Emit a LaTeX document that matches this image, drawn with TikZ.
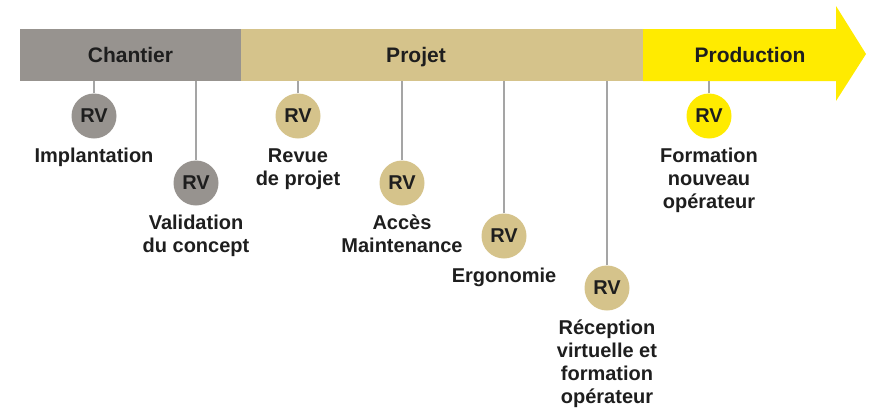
\documentclass[tikz,border=0pt]{standalone}
\usepackage{fontspec}
\setmainfont{Liberation Sans}
\definecolor{stonegray}{HTML}{97938F}
\definecolor{sandtan}{HTML}{D5C38B}
\definecolor{brightyellow}{HTML}{FFEB00}
\definecolor{stemgray}{HTML}{A5A5A5}
\definecolor{inkdark}{HTML}{1E1E1E}
\begin{document}
\begin{tikzpicture}[x=1pt,y=-1pt,
  phasebar/.style={rectangle, inner sep=0, outer sep=0, minimum height=52},
  phasetext/.style={anchor=base, inner sep=0, text=inkdark,
    font=\bfseries\fontsize{21}{24}\selectfont},
  rvdot/.style={circle, inner sep=0, minimum size=45, text=inkdark,
    font=\bfseries\fontsize{20}{23}\selectfont},
  % multi-line captions: the base anchor sits on the last line
  rvlabel/.style={anchor=base, align=center, inner sep=0, text=inkdark,
    font=\bfseries\fontsize{20}{23}\selectfont},
  stem/.style={draw=stemgray, line width=1.1pt}]
\useasboundingbox (0,0) rectangle (870,407);

% phase bars
\node[phasebar, fill=stonegray, minimum width=221] (chantier) at (130.5,55) {};
\node[phasebar, fill=sandtan, minimum width=402] (projet) at (442,55) {};
\fill[brightyellow] (643,29) -- (836,29) -- (836,6) -- (866,54)
  -- (836,101) -- (836,81) -- (643,81) -- cycle;
\coordinate (production) at (739.5,81);

\node[phasetext] (tchantier) at (130.5,62) {Chantier};
\node[phasetext] (tprojet) at (416,62) {Projet};
\node[phasetext] (tproduction) at (750,62) {Production};

% review milestones
\node[rvdot, fill=stonegray] (rv1) at (94,116) {RV};
\node[rvdot, fill=stonegray] (rv2) at (196,183) {RV};
\node[rvdot, fill=sandtan] (rv3) at (298,116) {RV};
\node[rvdot, fill=sandtan] (rv4) at (402,183) {RV};
\node[rvdot, fill=sandtan] (rv5) at (504,236) {RV};
\node[rvdot, fill=sandtan] (rv6) at (607,288) {RV};
\node[rvdot, fill=brightyellow] (rv7) at (709,116) {RV};

% stems from the bar down to each milestone
\draw[stem] (rv1.north) -- (rv1.north |- chantier.south);
\draw[stem] (rv2.north) -- (rv2.north |- chantier.south);
\draw[stem] (rv3.north) -- (rv3.north |- projet.south);
\draw[stem] (rv4.north) -- (rv4.north |- projet.south);
\draw[stem] (rv5.north) -- (rv5.north |- projet.south);
\draw[stem] (rv6.north) -- (rv6.north |- projet.south);
\draw[stem] (rv7.north) -- (rv7.north |- production);

% milestone captions
\node[rvlabel] (l1) at (94,162) {Implantation};
\node[rvlabel] (l2) at (196,252) {Validation\\du concept};
\node[rvlabel] (l3) at (298,185) {Revue\\de projet};
\node[rvlabel] (l4) at (402,252) {Accès\\Maintenance};
\node[rvlabel] (l5) at (504,282) {Ergonomie};
\node[rvlabel] (l6) at (607,403) {Réception\\virtuelle et\\formation\\opérateur};
\node[rvlabel] (l7) at (709,208) {Formation\\nouveau\\opérateur};
\end{tikzpicture}
\end{document}
